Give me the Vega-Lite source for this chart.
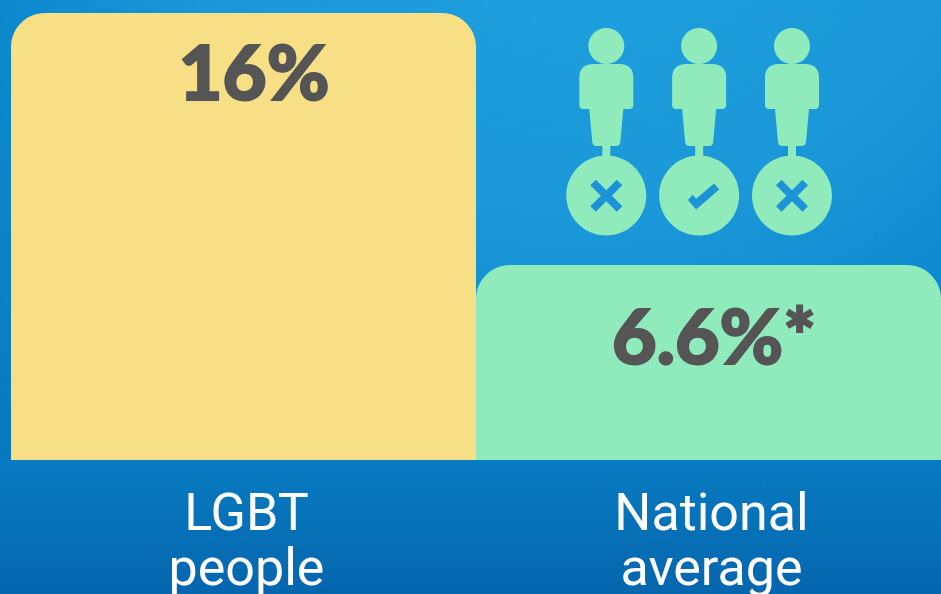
{
  "$schema": "https://vega.github.io/schema/vega-lite/v6.json",
  "width": 941,
  "height": 594,
  "padding": 0,
  "autosize": {"type": "fit", "contains": "padding"},
  "background": "#0a78c0",
  "view": {
    "stroke": null,
    "fill": {
      "gradient": "radial", "x1": 0.62, "y1": -0.03, "r1": 0, "x2": 0.62, "y2": -0.03, "r2": 1,
      "stops": [
        {"offset": 0, "color": "#20a5e2"},
        {"offset": 0.46, "color": "#1a97d8"},
        {"offset": 0.62, "color": "#0e8bd0"},
        {"offset": 1, "color": "#0675bc"}
      ]
    }
  },
  "datasets": {
    "groups": [
      {"group": "LGBT people", "value": 16, "text": "16%", "lines": ["LGBT", "people"]},
      {"group": "National average", "value": 6.6, "text": "6.6%*", "lines": ["National", "average"]}
    ],
    "footer": [
      {"from": 0, "to": 1, "low": -4.8, "high": 0}
    ],
    "people": [
      {"person": "A", "part": "figure", "kind": "person"},
      {"person": "B", "part": "figure", "kind": "person"},
      {"person": "C", "part": "figure", "kind": "person"},
      {"person": "A", "part": "badge", "kind": "no"},
      {"person": "B", "part": "badge", "kind": "yes"},
      {"person": "C", "part": "badge", "kind": "no"}
    ]
  },
  "layer": [
    {
      "data": {"name": "footer"},
      "mark": {
        "type": "rect",
        "color": {
          "gradient": "linear", "x1": 0, "y1": 0, "x2": 0, "y2": 1,
          "stops": [
            {"offset": 0, "color": "#087bc2"},
            {"offset": 1, "color": "#0566ae"}
          ]
        }
      },
      "encoding": {
        "x": {"field": "from", "type": "quantitative", "axis": null, "scale": {"domain": [0, 1], "nice": false, "zero": false}},
        "x2": {"field": "to"},
        "y": {"field": "low", "type": "quantitative", "axis": null,
          "scale": {"domain": [-4.8, 0, 6.6, 16, 16.47], "range": [594, 460, 265, 13, 0], "nice": false, "zero": false}},
        "y2": {"field": "high"}
      }
    },
    {
      "data": {"name": "groups"},
      "mark": {"type": "bar", "cornerRadiusTopLeft": 34, "cornerRadiusTopRight": 34},
      "encoding": {
        "x": {"field": "group", "type": "nominal", "axis": null,
          "scale": {"domain": ["LGBT people", "National average"], "range": [11, 941], "paddingInner": 0, "paddingOuter": 0}},
        "y": {"field": "value", "type": "quantitative", "axis": null,
          "scale": {"domain": [-4.8, 0, 6.6, 16, 16.47], "range": [594, 460, 265, 13, 0], "nice": false, "zero": false}},
        "color": {"field": "group", "type": "nominal", "legend": null,
          "scale": {"domain": ["LGBT people", "National average"], "range": ["#f6df85", "#90ebbc"]}}
      }
    },
    {
      "data": {"name": "groups"},
      "transform": [{"filter": "datum.value == 16"}],
      "mark": {"type": "text", "font": "Lato", "fontWeight": 900, "fontSize": 76, "color": "#555555", "stroke": "#555555", "strokeWidth": 2, "baseline": "alphabetic", "dy": 87, "dx": 10.5},
      "encoding": {
        "x": {"field": "group", "type": "nominal", "axis": null,
          "scale": {"domain": ["LGBT people", "National average"], "range": [11, 941], "paddingInner": 0, "paddingOuter": 0}},
        "y": {"field": "value", "type": "quantitative", "axis": null,
          "scale": {"domain": [-4.8, 0, 6.6, 16, 16.47], "range": [594, 460, 265, 13, 0], "nice": false, "zero": false}},
        "text": {"field": "text"}
      }
    },
    {
      "data": {"name": "groups"},
      "transform": [{"filter": "datum.value != 16"}],
      "mark": {"type": "text", "font": "Lato", "fontWeight": 900, "fontSize": 77, "color": "#555555", "stroke": "#555555", "strokeWidth": 2, "baseline": "alphabetic", "dy": 99, "dx": 5.5},
      "encoding": {
        "x": {"field": "group", "type": "nominal", "axis": null,
          "scale": {"domain": ["LGBT people", "National average"], "range": [11, 941], "paddingInner": 0, "paddingOuter": 0}},
        "y": {"field": "value", "type": "quantitative", "axis": null,
          "scale": {"domain": [-4.8, 0, 6.6, 16, 16.47], "range": [594, 460, 265, 13, 0], "nice": false, "zero": false}},
        "text": {"field": "text"}
      }
    },
    {
      "data": {"name": "groups"},
      "mark": {"type": "text", "font": "Roboto", "fontWeight": 400, "fontSize": 52, "lineHeight": 55, "color": "#ffffff", "baseline": "alphabetic", "dy": 70, "dx": 3},
      "encoding": {
        "x": {"field": "group", "type": "nominal", "axis": null,
          "scale": {"domain": ["LGBT people", "National average"], "range": [11, 941], "paddingInner": 0, "paddingOuter": 0}},
        "y": {"datum": 0, "type": "quantitative", "axis": null,
          "scale": {"domain": [-4.8, 0, 6.6, 16, 16.47], "range": [594, 460, 265, 13, 0], "nice": false, "zero": false}},
        "text": {"field": "lines"}
      }
    },
    {
      "data": {"name": "people"},
      "mark": {"type": "point", "filled": true, "size": 40000, "opacity": 1},
      "encoding": {
        "x": {"field": "person", "type": "nominal", "axis": null,
          "scale": {"type": "point", "domain": ["A", "B", "C"], "range": [606.3, 792], "padding": 0}},
        "y": {"field": "part", "type": "nominal", "axis": null,
          "scale": {"type": "point", "domain": ["figure", "badge"], "range": [132, 195.7], "padding": 0}},
        "shape": {"field": "kind", "type": "nominal", "legend": null,
          "scale": {"domain": ["person", "no", "yes"], "range": [
            "M-.18 -.86 A.18 .18 0 1 1 .18 -.86 A.18 .18 0 1 1 -.18 -.86 Z M-.13 -.68 L.13 -.68 Q.27 -.68 .27 -.54 L.27 -.27 Q.27 -.23 .23 -.23 L.17 -.23 L.14 .10 Q.135 .14 .10 .14 L.04 .14 L.04 .26 L-.04 .26 L-.04 .14 L-.10 .14 Q-.135 .14 -.14 .10 L-.17 -.23 L-.23 -.23 Q-.27 -.23 -.27 -.27 L-.27 -.54 Q-.27 -.68 -.13 -.68 Z M-.40 .635 A.40 .40 0 1 1 .40 .635 A.40 .40 0 1 1 -.40 .635 Z",
            "M-.16 -.105 L-.105 -.16 L0 -.055 L.105 -.16 L.16 -.105 L.055 0 L.16 .105 L.105 .16 L0 .055 L-.105 .16 L-.16 .105 L-.055 0 Z",
            "M-.113 .043 L-.03 .137 L.20 -.063 L.15 -.123 L-.03 .03 L-.063 -.01 Z"
          ]}},
        "color": {"field": "kind", "type": "nominal", "legend": null,
          "scale": {"domain": ["person", "no", "yes"], "range": ["#90ebbc", "#1b93d6", "#1b93d6"]}}
      }
    }
  ],
  "resolve": {"scale": {"x": "independent", "y": "independent", "color": "independent", "shape": "independent"}}
}
